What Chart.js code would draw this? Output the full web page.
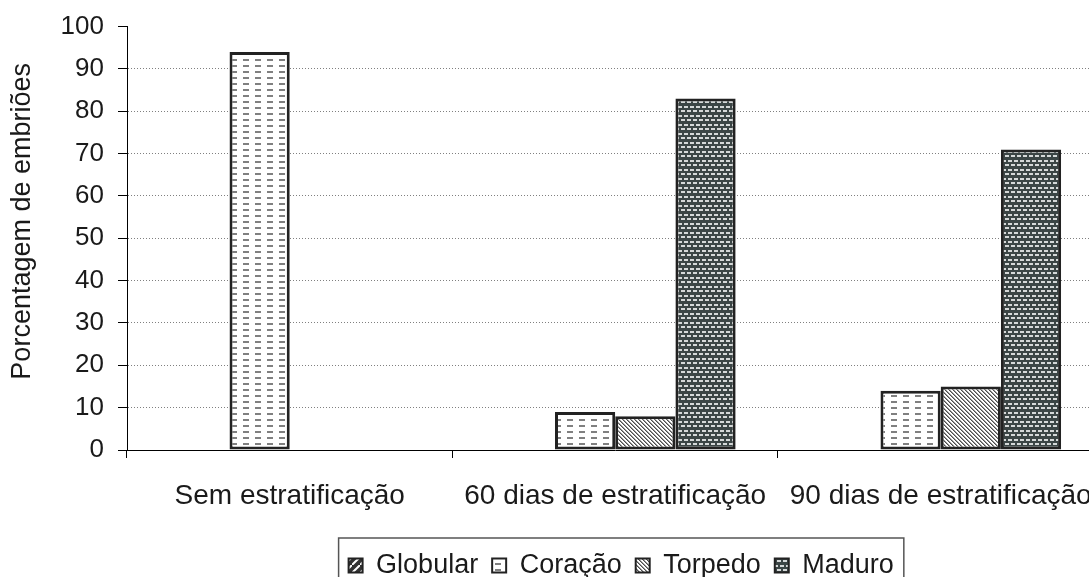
<!DOCTYPE html>
<html>
<head>
<meta charset="utf-8">
<script src="https://cdn.jsdelivr.net/npm/chart.js@4"></script>
<style>
  html, body { margin: 0; padding: 0; background: #fff; overflow: hidden; }
  #wrap { width: 1113px; height: 602px; margin-top: -3px; }
</style>
</head>
<body>
<div id="wrap"><canvas id="grafico"></canvas></div>
<script>
// dados
const categorias = ['Sem estratificação', '60 dias de estratificação', '90 dias de estratificação'];
const globular = [0, 0, 0];
const coracao = [94, 9, 14];
const torpedo = [0, 8, 15];
const maduro = [0, 83, 71];
const yMin = 0, yMax = 100, yPasso = 10;

Chart.defaults.font.family = '"Liberation Sans", Arial, sans-serif';
Chart.defaults.color = '#1a1a1a';

function makePattern(w, h, draw) {
    const c = document.createElement('canvas');
    c.width = w; c.height = h;
    const g = c.getContext('2d');
    draw(g, w, h);
    return g.createPattern(c, 'repeat');
}

const padraoGlobular = makePattern(8, 8, (g, w, h) => {
    g.fillStyle = '#333'; g.fillRect(0, 0, w, h);
    g.strokeStyle = '#fff'; g.lineWidth = 2;
    g.beginPath(); g.moveTo(-1, h + 1); g.lineTo(w + 1, -1); g.stroke();
});

const padraoCoracao = makePattern(12, 6, (g, w, h) => {
    g.fillStyle = '#fff'; g.fillRect(0, 0, w, h);
    g.fillStyle = '#808080'; g.fillRect(3, 2, 6, 2);
});

const padraoTorpedo = makePattern(4, 4, (g, w, h) => {
    g.fillStyle = '#fff'; g.fillRect(0, 0, w, h);
    for (let i = 0; i < 4; i++) {
        g.fillStyle = '#4d4d4d'; g.fillRect(i, i, 1, 1);
        g.fillStyle = '#999'; g.fillRect((i + 1) % 4, i, 1, 1);
    }
});

const padraoMaduro = makePattern(6, 9, (g, w, h) => {
    g.fillStyle = '#3b4545'; g.fillRect(0, 0, w, h);
    g.fillStyle = '#d5d8d8';
    g.fillRect(0, 1, 4, 2);
    g.fillRect(3, 5, 3, 2);
    g.fillRect(0, 5, 1, 2);
});

const semZero = ctx => (ctx.raw === 0 ? 0 : 3);

function dataset(label, data, fill) {
    return {
        label: label,
        data: data,
        backgroundColor: fill,
        borderColor: '#222',
        borderWidth: semZero,
        borderSkipped: false
    };
}

// legenda com moldura e título do eixo y um pouco acima do centro, como no original
const ajustes = {
    id: 'ajustes',
    afterLayout(chart) {
        const lg = chart.legend;
        const a = chart.chartArea;
        const centro = (a.left + a.right) / 2 + 6;
        lg.left = 0;
        lg.right = 2 * centro;

        const y = chart.scales.y;
        if (!y._tituloOrig) {
            y._tituloOrig = y.drawTitle;
            y.drawTitle = function () {
                const t = this.top;
                this.top -= 34;
                y._tituloOrig.call(this);
                this.top = t;
            };
        }
    },
    afterDraw(chart) {
        const lg = chart.legend;
        const pad = lg.options.labels.padding;
        const lw = lg.lineWidths[0];
        const x0 = (lg.left + pad + lg.right - lw) / 2;
        const ctx = chart.ctx;
        ctx.save();
        ctx.strokeStyle = '#555';
        ctx.lineWidth = 1.5;
        ctx.strokeRect(x0 - 10, lg.top, lw - pad + 20, lg.height + 20);
        ctx.restore();
    }
};

new Chart(document.getElementById('grafico'), {
    type: 'bar',
    data: {
        labels: categorias,
        datasets: [
            dataset('Globular', globular, padraoGlobular),
            dataset('Coração', coracao, padraoCoracao),
            dataset('Torpedo', torpedo, padraoTorpedo),
            dataset('Maduro', maduro, padraoMaduro)
        ]
    },
    options: {
        responsive: true,
        maintainAspectRatio: false,
        animation: false,
        layout: { padding: { top: 23, right: 2, bottom: 10, left: 0 } },
        datasets: { bar: { categoryPercentage: 0.74, barPercentage: 1 } },
        scales: {
            x: {
                grid: { drawOnChartArea: false, drawTicks: true, tickLength: 8, color: '#000', offset: true },
                border: { color: '#000', width: 1 },
                ticks: { font: { size: 28 }, padding: 21, maxRotation: 0, autoSkip: false },
                afterFit: s => { s.height = 88; }
            },
            y: {
                min: yMin,
                max: yMax,
                ticks: { stepSize: yPasso, font: { size: 26 }, padding: 14 },
                grid: {
                    color: ctx => (ctx.tick && ctx.tick.value > yMin && ctx.tick.value < yMax ? '#808080' : 'rgba(0,0,0,0)'),
                    tickColor: '#000',
                    tickLength: 9,
                    lineWidth: 1
                },
                border: { color: '#000', width: 1, dash: [1, 2] },
                title: { display: true, text: 'Porcentagem de embriões', font: { size: 27 }, padding: { top: 6, bottom: 0 } },
                afterFit: s => { s.width = 127; }
            }
        },
        plugins: {
            legend: {
                position: 'bottom',
                labels: {
                    font: { size: 27 },
                    boxWidth: 14,
                    boxHeight: 14,
                    padding: 14,
                    generateLabels: chart => Chart.defaults.plugins.legend.labels.generateLabels(chart)
                        .map(l => Object.assign(l, { lineWidth: 2, strokeStyle: '#222' }))
                }
            },
            tooltip: { enabled: false }
        }
    },
    plugins: [ajustes]
});
</script>
</body>
</html>
